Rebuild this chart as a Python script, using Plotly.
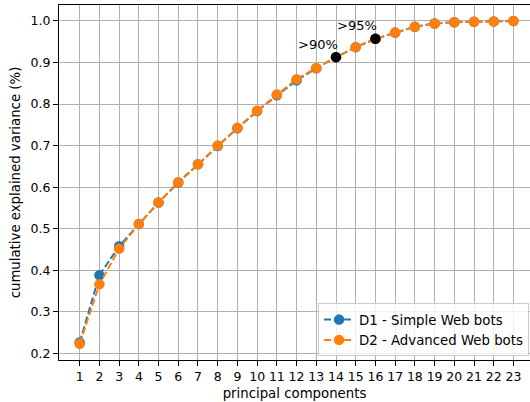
import plotly.graph_objects as go

components = list(range(1, 24))
d1_simple = [0.226, 0.388, 0.458, 0.511, 0.563, 0.611, 0.655, 0.699, 0.742, 0.783,
             0.821, 0.857, 0.886, 0.913, 0.937, 0.957, 0.972, 0.986, 0.994, 0.997,
             0.998, 0.999, 1.0]
d2_advanced = [0.223, 0.366, 0.452, 0.511, 0.563, 0.612, 0.655, 0.700, 0.743, 0.784,
               0.823, 0.860, 0.887, 0.913, 0.937, 0.957, 0.972, 0.986, 0.994, 0.997,
               0.998, 0.999, 1.0]
highlight_components = [14, 16]
highlight_labels = [">90%", ">95%"]

FONT = "DejaVu Sans"
TXT = 13.3
TICK = 12.5

fig = go.Figure()
fig.add_trace(go.Scatter(
    x=components, y=d1_simple, mode="lines+markers", name="D1 - Simple Web bots",
    line=dict(color="#1f77b4", width=2, dash="7px,3px"),
    marker=dict(color="#1f77b4", size=10.5),
))
fig.add_trace(go.Scatter(
    x=components, y=d2_advanced, mode="lines+markers", name="D2 - Advanced Web bots",
    line=dict(color="#ff7f0e", width=2, dash="7px,3px"),
    marker=dict(color="#ff7f0e", size=10.5),
))
hy = [d2_advanced[components.index(c)] for c in highlight_components]
fig.add_trace(go.Scatter(
    x=highlight_components, y=hy, mode="markers", showlegend=False,
    marker=dict(color="black", size=10.5),
))
for c, v, lab in zip(highlight_components, hy, highlight_labels):
    fig.add_annotation(x=c - 0.93, y=v + 0.031, text=lab, showarrow=False,
                       xref="x", yref="y", xanchor="center", yanchor="middle",
                       font=dict(family=FONT, size=13, color="black"))

fig.update_layout(
    width=530, height=402,
    margin=dict(l=59, r=0, t=5, b=42),
    paper_bgcolor="white", plot_bgcolor="white",
    font=dict(family=FONT, size=TXT, color="black"),
    legend=dict(
        x=0.998, y=0.01, xanchor="right", yanchor="bottom",
        bgcolor="rgba(255,255,255,0.8)", bordercolor="#cccccc", borderwidth=1,
        font=dict(family=FONT, size=TXT, color="black"),
        tracegroupgap=0, itemwidth=30,
    ),
)
fig.update_xaxes(
    range=[-0.05, 23.84], tickmode="array", tickvals=components,
    ticktext=[str(c) for c in components],
    showgrid=True, gridcolor="#b0b0b0", gridwidth=1,
    showline=True, linecolor="black", linewidth=1, mirror=True,
    ticks="outside", ticklen=5, tickcolor="black", zeroline=False,
    tickfont=dict(family=FONT, size=TICK),
    title=dict(text="principal components", font=dict(family=FONT, size=TXT), standoff=5),
)
fig.update_yaxes(
    range=[0.1839, 1.0385], tickmode="array",
    tickvals=[0.2, 0.3, 0.4, 0.5, 0.6, 0.7, 0.8, 0.9, 1.0],
    ticktext=["0.2", "0.3", "0.4", "0.5", "0.6", "0.7", "0.8", "0.9", "1.0"],
    showgrid=True, gridcolor="#b0b0b0", gridwidth=1,
    showline=True, linecolor="black", linewidth=1, mirror=False,
    ticks="outside", ticklen=5, tickcolor="black", zeroline=False,
    tickfont=dict(family=FONT, size=TICK),
    title=dict(text="cumulative explained variance (%)", font=dict(family=FONT, size=TXT), standoff=6),
)

fig.write_html(
    "out.html",
    config={"displayModeBar": False},
    post_script="document.body.style.margin='0';document.body.style.padding='0';"
                "document.body.style.overflow='hidden';",
)
